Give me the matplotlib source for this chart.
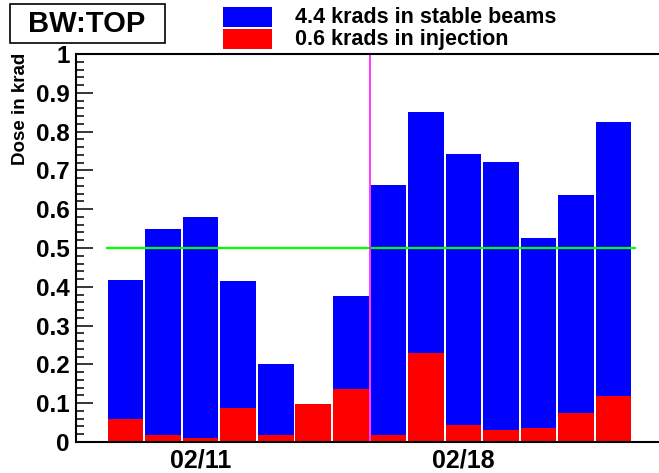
"""Daily dose histogram for BW:TOP, stable beams vs injection."""
import matplotlib
matplotlib.use("Agg")
import matplotlib.pyplot as plt
from matplotlib.patches import Rectangle
from matplotlib.ticker import MultipleLocator

plt.rcParams['font.family'] = ['Liberation Sans', 'DejaVu Sans']
plt.rcParams['font.weight'] = 'bold'

# one bar per day, 02/09 .. 02/22
days = ["02/09", "02/10", "02/11", "02/12", "02/13", "02/14", "02/15",
        "02/16", "02/17", "02/18", "02/19", "02/20", "02/21", "02/22"]
total_dose = [0.417, 0.549, 0.580, 0.415, 0.200, 0.0, 0.376,
              0.663, 0.851, 0.743, 0.722, 0.526, 0.637, 0.826]
injection_dose = [0.058, 0.017, 0.010, 0.087, 0.017, 0.097, 0.136,
                  0.019, 0.229, 0.043, 0.032, 0.035, 0.074, 0.118]
labelled_days = ["02/11", "02/18"]
legend_labels = ["4.4 krads in stable beams", "0.6 krads in injection"]
limit = 0.5
marker_day = 6.5   # between 02/15 and 02/16

W, H = 659, 473
fig = plt.figure(figsize=(W / 100, H / 100), dpi=100)
ax = fig.add_axes([76 / W, (H - 442) / H, (W - 76) / W, (442 - 54) / H])

x = list(range(len(days)))
ax.bar(x, total_dose, width=0.95, color="#0000ff", linewidth=0, zorder=2)
ax.bar(x, injection_dose, width=0.95, color="#ff0000", linewidth=0, zorder=3)
ax.hlines(limit, -0.52, len(days) - 0.4, color="#00ff00", linewidth=1.6, zorder=4)
ax.axvline(marker_day, color="#ff00ff", linewidth=1.1, zorder=4)

ax.set_xlim(-1.32, 14.21)
ax.set_ylim(0, 1)

ax.set_xticks([days.index(d) for d in labelled_days])
ax.set_xticklabels(labelled_days, fontsize=18, fontweight="bold")
ax.tick_params(axis="x", length=0, pad=5)

ax.yaxis.set_major_locator(MultipleLocator(0.1))
ax.yaxis.set_minor_locator(MultipleLocator(0.02))
ax.set_yticks([i / 10 for i in range(11)])
ax.set_yticklabels(["0"] + [f"{i / 10:.1f}" for i in range(1, 10)] + ["1"],
                   fontsize=17.5, fontweight="bold")
ax.tick_params(axis="y", which="major", direction="in", length=12, width=1.1, pad=4.5)
ax.tick_params(axis="y", which="minor", direction="in", length=6, width=1.1)

for side in ["left", "bottom", "top"]:
    ax.spines[side].set_linewidth(1.5)
    ax.spines[side].set_zorder(5)
ax.spines["right"].set_visible(False)

fig.text(21 / W, 1 - 53 / H, "Dose in krad", rotation=90, ha="center", va="top",
         fontsize=13.5, fontweight="bold")

# title box
fig.patches.append(Rectangle((9.5 / W, 1 - 43.5 / H), 155.5 / W, 39 / H,
                             transform=fig.transFigure, facecolor="white",
                             edgecolor="black", linewidth=1.2))
fig.text(87 / W, 1 - 24 / H, "BW:TOP", ha="center", va="center",
         fontsize=21, fontweight="bold")

# legend
for i, (lab, col) in enumerate(zip(legend_labels, ["#0000ff", "#ff0000"])):
    y0 = 7.3 + i * 22
    fig.patches.append(Rectangle((223 / W, 1 - (y0 + 19.4) / H), 49 / W, 19.4 / H,
                                 transform=fig.transFigure, facecolor=col,
                                 edgecolor="none"))
    fig.text(295 / W, 1 - (y0 + 10.5) / H, lab, ha="left", va="center",
             fontsize=15.5, fontweight="bold")

fig.savefig("out.png", dpi=100)
